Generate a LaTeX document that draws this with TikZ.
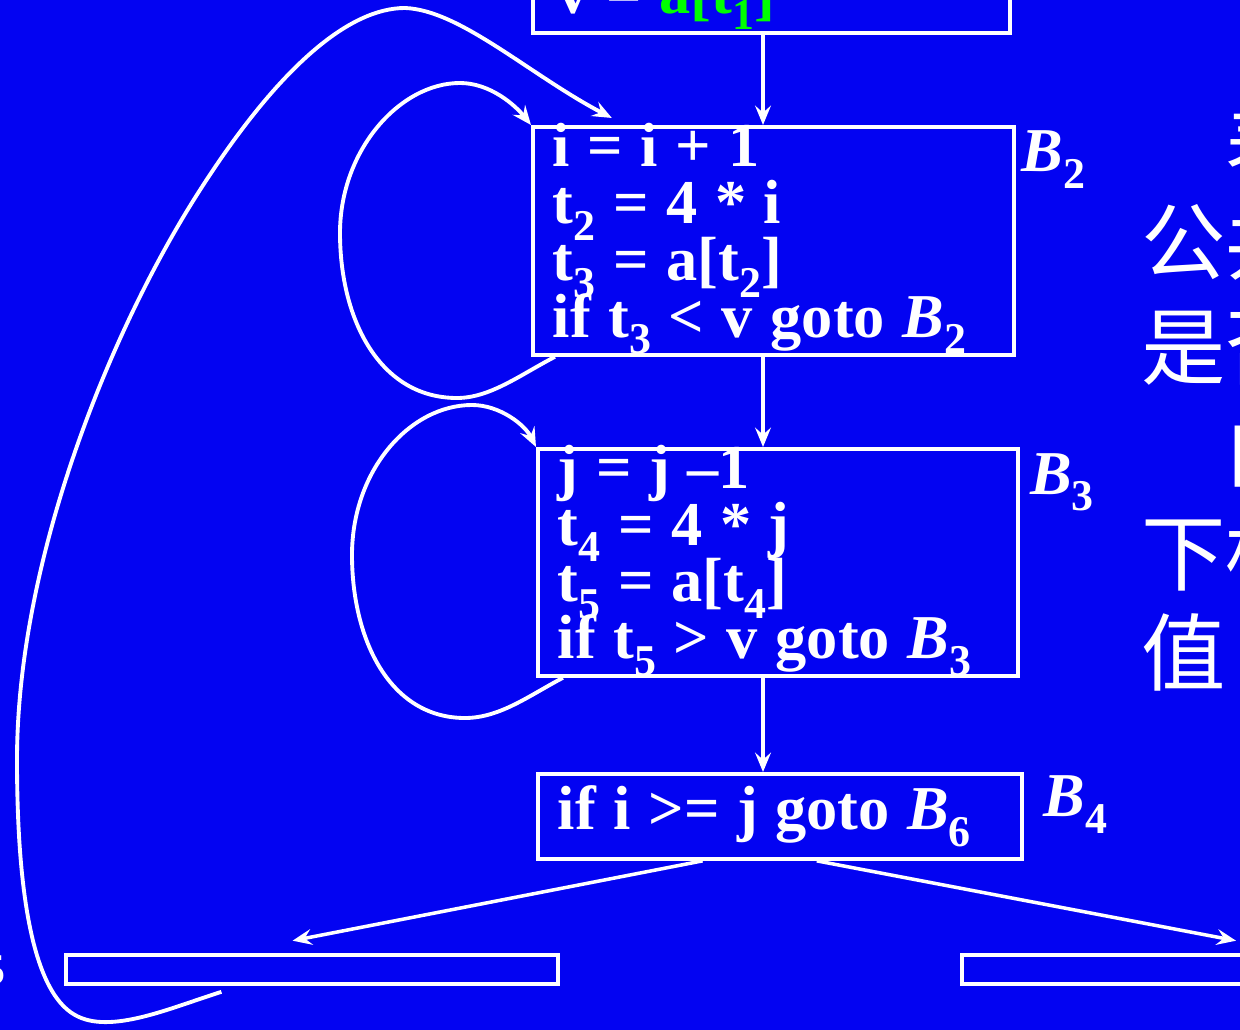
\documentclass[tikz,border=0pt]{standalone}
\usepackage{fontspec}
\setmainfont{Liberation Serif}
\newfontfamily\cjkfont{Noto Sans CJK SC}
\usetikzlibrary{arrows.meta,positioning}
\definecolor{slide}{RGB}{3,3,242}
\definecolor{hilite}{RGB}{0,255,0}
\newcommand\codefont{\fontsize{35.5}{32.3}\selectfont\bfseries\lineskiplimit=-100pt\relax}
\newcommand\subidx[1]{\raisebox{-9.5pt}{\fontsize{25}{25}\selectfont #1}}
\newcommand\bname[1]{\textit{B}\subidx{#1}}
\newcommand\topline[1]{\smash{#1}\rule{0pt}{22.5pt}}
\begin{document}
\begin{tikzpicture}[x=0.02cm,y=-0.02cm,
blk/.style={draw=white,line width=2.2pt,text=white,font=\codefont,align=left,anchor=north west,inner xsep=0.4cm,inner ysep=0pt,execute at begin node={\spaceskip=10pt\relax}},
bar/.style={draw=white,line width=2.2pt,anchor=north west,minimum height=0.58cm,minimum width=9.84cm,inner sep=0pt},
lbl/.style={text=white,font=\codefont,inner sep=0pt},
arr/.style={draw=white,line width=2pt,-{Stealth[length=11pt,width=9pt,inset=4pt]}},
loop/.style={arr,line width=2.2pt},
note/.style={text=white,font=\cjkfont\fontsize{48}{48}\selectfont,anchor=base west,inner sep=0pt}]
\useasboundingbox (0,0) rectangle (1240,1030);
\clip (0,0) rectangle (1240,1030);
\fill[slide] (0,0) rectangle (1240,1030);
% basic blocks
\node[blk,anchor=south west,text width=8.54cm,inner xsep=0.5cm,text height=5cm,text depth=0.4cm] (b1) at (531,35) {v = \textcolor{hilite}{a[t\subidx{1}]}};
\node[blk,text width=8.82cm,minimum height=4.56cm] (b2) at (531,125) {\topline{i = i + 1}\\t\subidx{2} = 4 * i\\t\subidx{3} = a[t\subidx{2}]\\if t\subidx{3} < v goto \bname{2}};
\node[blk,text width=8.8cm,minimum height=4.54cm] (b3) at (536,447) {\topline{j = j –1}\\t\subidx{4} = 4 * j\\t\subidx{5} = a[t\subidx{4}]\\if t\subidx{5} > v goto \bname{3}};
\node[blk,text width=8.88cm,minimum height=1.7cm] (b4) at (536,772) {if i >= j goto \bname{6}};
\node[bar] (b5) at (64,953) {};
\node[bar] (b6) at (960,953) {};
% block names
\node[lbl,below right=3pt and 3pt of b2.north east] (l2) {\bname{2}};
\node[lbl,below right=3.4pt and 5.7pt of b3.north east] (l3) {\bname{3}};
\node[lbl,below right=2pt and 11pt of b4.north east] (l4) {\bname{4}};
\node[lbl,anchor=base east] (l5) at (6,968) {\bname{5}};
% text on the right
\node[note] (c1) at (1141,178) {　表};
\node[note] (c2) at (1141,274) {公共};
\node[note] (c3) at (1141,378) {是否};
\node[note] (c4) at (1141,480) {　由};
\node[note] (c5) at (1141,584) {下标};
\node[note] (c6) at (1141,684) {值};
% flow
\coordinate (spine) at (763,0);
\draw[arr] (b1.south -| spine) -- (b2.north -| spine);
\draw[arr] (b2.south -| spine) -- (b3.north -| spine);
\draw[arr] (b3.south -| spine) -- (b4.north -| spine);
\draw[arr] ([xshift=-44pt]b4.south) -- ([xshift=-11pt,yshift=7pt]b5.north);
\draw[arr] ([xshift=21pt]b4.south) -- ([xshift=16pt,yshift=7pt]b6.north);
% back edges
\draw[loop] ([xshift=13.6pt]b2.south west) .. controls (520,375) and (490,398) .. (457,398) .. controls (380,398) and (340,320) .. (340,233) .. controls (340,150) and (400,83) .. (460,83) .. controls (490,83) and (515,105) .. (b2.north west);
\draw[loop] ([xshift=15.3pt]b3.south west) .. controls (530,695) and (500,718) .. (465,718) .. controls (390,718) and (352,640) .. (352,555) .. controls (352,470) and (410,405) .. (472,405) .. controls (500,405) and (525,425) .. (b3.north west);
\draw[loop] ([xshift=89.6pt,yshift=-3.4pt]b5.south west) .. controls (170,1008) and (110,1035) .. (75,1015) .. controls (30,990) and (17,880) .. (17,760) .. controls (17,560) and (110,330) .. (200,190) .. controls (280,65) and (350,8) .. (405,8) .. controls (460,10) and (530,75) .. ([xshift=46pt,yshift=4pt]b2.north west);
\end{tikzpicture}
\end{document}
